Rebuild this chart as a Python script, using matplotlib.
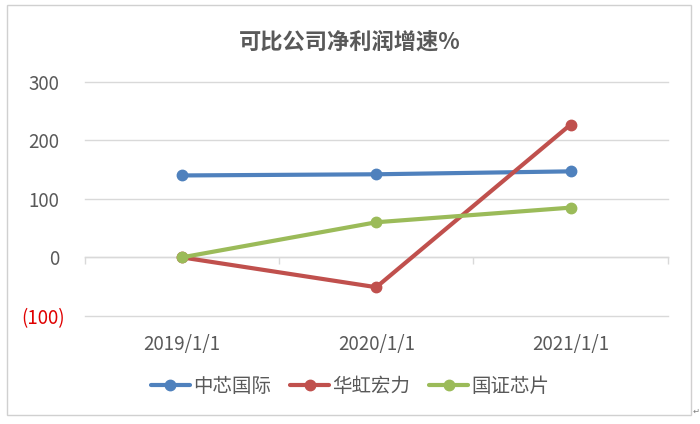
import matplotlib
matplotlib.use("Agg")
import matplotlib.pyplot as plt
from matplotlib.patches import Rectangle
from matplotlib.transforms import ScaledTranslation

plt.rcParams["font.family"] = ["Noto Sans CJK SC", "DejaVu Sans"]

TITLE = "可比公司净利润增速%"
CATEGORIES = ["2019/1/1", "2020/1/1", "2021/1/1"]
SERIES = ["中芯国际", "华虹宏力", "国证芯片"]
SMIC = [140, 142, 147]
HUAHONG = [0, -51, 227]
CHIP_INDEX = [0, 60, 85]
Y_TICKS = [-100, 0, 100, 200, 300]
Y_LABELS = ["(100)", "0", "100", "200", "300"]

COLORS = ["#4F81BD", "#C0504D", "#9BBB59"]
GRID = "#D9D9D9"
TEXT = "#595959"

fig = plt.figure(figsize=(7.0, 4.24), dpi=100)
ax = fig.add_axes([0.121, 0.255, 0.833, 0.552])

x = range(len(CATEGORIES))
for vals, name, c in zip([SMIC, HUAHONG, CHIP_INDEX], SERIES, COLORS):
    ax.plot(x, vals, color=c, lw=3.0, marker="o", ms=7.5, label=name,
            solid_capstyle="round", zorder=3)

ax.set_xlim(-0.5, len(CATEGORIES) - 0.5)
ax.set_ylim(Y_TICKS[0], Y_TICKS[-1])
ax.set_yticks(Y_TICKS)
ax.set_yticklabels(Y_LABELS)
ax.tick_params(axis="y", length=0, pad=14, labelsize=13.5)
ax.set_xticks(list(x))
ax.set_xticklabels(CATEGORIES)
ax.tick_params(axis="x", length=0, pad=13, labelsize=13.5, labelcolor=TEXT)

# accounting format: positives leave room for the closing paren
shift = ScaledTranslation(-4.5 / 72, 0, fig.dpi_scale_trans)
for lab, v in zip(ax.get_yticklabels(), Y_TICKS):
    if v < 0:
        lab.set_color("#E00000")
    else:
        lab.set_color(TEXT)
        lab.set_transform(lab.get_transform() + shift)

ax.yaxis.grid(True, color=GRID, lw=1.0)
for gl in ax.get_ygridlines():
    gl.set_clip_on(False)
ax.set_axisbelow(True)
for s in ax.spines.values():
    s.set_visible(False)

# category axis crossing at zero, with ticks between categories
sec = ax.secondary_xaxis((0 - Y_TICKS[0]) / (Y_TICKS[-1] - Y_TICKS[0]))
sec.set_xticks([i - 0.5 for i in range(len(CATEGORIES) + 1)])
sec.set_xticklabels([])
sec.tick_params(axis="x", length=5, width=1.0, color=GRID, direction="out")
sec.spines["bottom"].set_color(GRID)
sec.spines["bottom"].set_linewidth(1.0)

fig.text(0.5, 0.9, TITLE, ha="center", va="center", fontsize=16,
         fontweight="bold", color=TEXT)

fig.legend(loc="center", bbox_to_anchor=(0.5, 0.088), ncol=3, frameon=False,
           fontsize=14, labelcolor=TEXT, handlelength=2.0, handletextpad=0.15,
           columnspacing=1.0)

fig.patches.append(Rectangle((0.010, 0.021), 0.977, 0.967, transform=fig.transFigure,
                             fill=False, edgecolor="#D0D0D0", lw=1.0))
fig.text(0.989, 0.03, "↵", fontsize=6, color="#808080", ha="left", va="center")

fig.savefig("out.png", dpi=100)
